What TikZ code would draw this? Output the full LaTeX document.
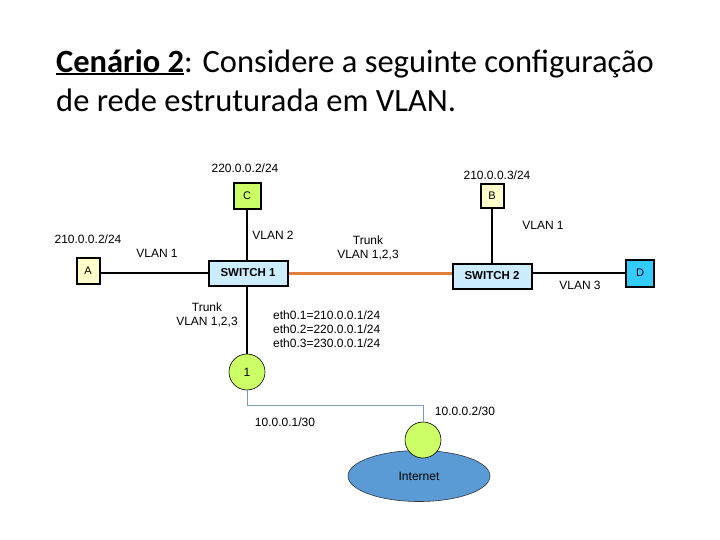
\documentclass[tikz,border=0pt]{standalone}
\usepackage{fontspec}
\setmainfont{Carlito}
\newfontfamily\arialfont{Liberation Sans}
\usetikzlibrary{shapes.geometric}
\definecolor{limegreen}{HTML}{CCFF66}
\definecolor{paleyellow}{HTML}{FFFFCC}
\definecolor{paleblue}{HTML}{CCECFF}
\definecolor{skyblue}{HTML}{33CCFF}
\definecolor{netblue}{HTML}{5B9BD5}
\definecolor{trunkorange}{HTML}{E0803A}
\definecolor{linkgray}{HTML}{7F9DB0}
\newcommand{\thickul}[1]{\setbox0\hbox{#1}\rlap{\rule[-3.2pt]{\wd0}{2.4pt}}\box0}

\begin{document}
\begin{tikzpicture}[x=1pt,y=-1pt,
  host/.style={draw=black,line width=2pt,minimum width=27pt,minimum height=26pt,
    inner sep=0pt,font=\arialfont\fontsize{11}{12}\selectfont},
  switchbox/.style={draw=black,line width=2pt,fill=paleblue,minimum width=79pt,
    minimum height=25pt,inner sep=0pt,font=\arialfont\bfseries\fontsize{11.5}{13}\selectfont},
  router/.style={circle,draw=black,line width=0.6pt,fill=limegreen,minimum size=36pt,
    inner sep=0pt,font=\arialfont\fontsize{12}{14}\selectfont},
  lbl/.style={font=\arialfont\fontsize{12}{14}\selectfont,inner sep=1pt},
  wire/.style={line width=2pt}]
\useasboundingbox (0,0) rectangle (720,540);

\node[anchor=north west,align=left,inner sep=0pt,font=\fontsize{32.5}{39}\selectfont]
  (title) at (56,49) {\thickul{\textbf{Cenário 2}}: Considere a seguinte configuração\\de rede estruturada em VLAN.};

% hosts and switches
\node[host,fill=limegreen] (c) at (247,196) {C};
\node[host,fill=paleyellow,minimum width=23pt] (a) at (88,271) {A};
\node[host,fill=paleyellow,minimum width=23pt,minimum height=24pt] (b) at (492,196) {B};
\node[host,fill=skyblue,minimum width=28pt,minimum height=27pt] (d) at (640,273) {D};
\node[switchbox] (sw1) at (248,273) {SWITCH 1};
\node[switchbox] (sw2) at (492,276) {SWITCH 2};

% internet side
\node[ellipse,draw=black!80,line width=0.6pt,fill=netblue,minimum width=142pt,
  minimum height=51pt,font=\arialfont\fontsize{12}{14}\selectfont] (net) at (419,476) {Internet};
\node[router] (r1) at (247,372) {1};
\node[router] (gw) at (423,440) {};

% links
\draw[wire] (a.east |- sw1) -- (sw1.west);
\draw[wire] (c) -- (c |- sw1.north);
\draw[wire] (b) -- (sw2);
\draw[wire] (sw2.east |- d) -- (d.west);
\draw[wire] (sw1.south -| r1) -- (r1);
\draw[trunkorange,line width=3pt] (sw1.east) -- (sw1.east -| sw2.west);
\draw[linkgray,line width=1pt] (r1.south) -- ++(0,15) -| (gw.north);

% labels
\node[lbl] (ipc) at (245,168) {220.0.0.2/24};
\node[lbl] (ipb) at (497,175) {210.0.0.3/24};
\node[lbl] (ipa) at (88,239) {210.0.0.2/24};
\node[lbl] (vlc) at (273,235) {VLAN 2};
\node[lbl] (vla) at (157,253) {VLAN 1};
\node[lbl] (vlb) at (543,225) {VLAN 1};
\node[lbl] (vld) at (580,285) {VLAN 3};
\node[lbl,align=center] (trunk12) at (368,248) {Trunk\\VLAN 1,2,3};
\node[lbl,align=center] (trunk1r) at (207,315) {Trunk\\VLAN 1,2,3};
\node[lbl,anchor=west,align=left] (eth) at (272,329)
  {eth0.1=210.0.0.1/24\\eth0.2=220.0.0.1/24\\eth0.3=230.0.0.1/24};
\node[lbl] (ipr1) at (285,422) {10.0.0.1/30};
\node[lbl] (ipgw) at (465,411) {10.0.0.2/30};
\end{tikzpicture}
\end{document}
